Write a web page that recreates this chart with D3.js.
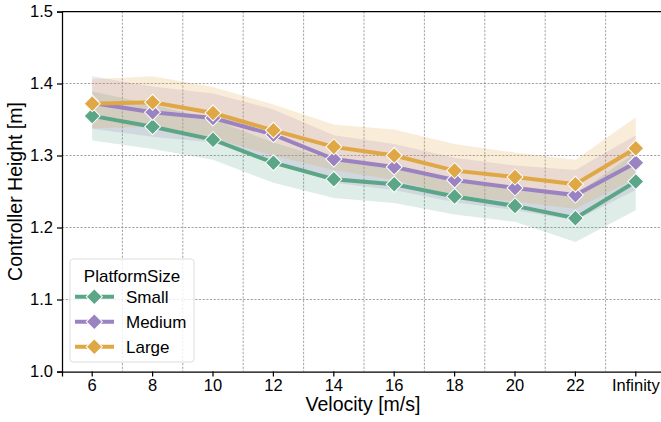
<!DOCTYPE html>
<html>
<head>
<meta charset="utf-8">
<script src="https://cdn.jsdelivr.net/npm/d3@7"></script>
<style>
  body { margin: 0; background: #fff; }
  svg text { font-family: "Liberation Sans", Arial, sans-serif; }
</style>
</head>
<body>
<svg id="chart" width="661" height="422"></svg>
<script>
// chart data
const velocities = ["6", "8", "10", "12", "14", "16", "18", "20", "22", "Infinity"];
const seriesNames = ["Small", "Medium", "Large"];
const smallMean = [1.355, 1.340, 1.322, 1.290, 1.267, 1.260, 1.243, 1.230, 1.213, 1.264];
const smallLow = [1.321, 1.309, 1.294, 1.262, 1.241, 1.234, 1.218, 1.208, 1.180, 1.224];
const smallHigh = [1.389, 1.371, 1.350, 1.318, 1.293, 1.286, 1.268, 1.252, 1.246, 1.304];
const mediumMean = [1.373, 1.360, 1.352, 1.329, 1.295, 1.284, 1.266, 1.255, 1.245, 1.290];
const mediumLow = [1.337, 1.326, 1.318, 1.294, 1.262, 1.252, 1.235, 1.224, 1.210, 1.252];
const mediumHigh = [1.410, 1.396, 1.386, 1.364, 1.328, 1.316, 1.297, 1.286, 1.280, 1.328];
const largeMean = [1.372, 1.374, 1.359, 1.335, 1.312, 1.300, 1.279, 1.270, 1.260, 1.310];
const largeLow = [1.338, 1.340, 1.324, 1.300, 1.280, 1.266, 1.244, 1.236, 1.226, 1.268];
const largeHigh = [1.406, 1.410, 1.395, 1.371, 1.343, 1.336, 1.316, 1.304, 1.294, 1.353];
const yTicks = [1.0, 1.1, 1.2, 1.3, 1.4, 1.5];

const colors = { Small: "#5ba686", Medium: "#9b83c1", Large: "#e0a745" };

const series = [
  { name: "Small", mean: smallMean, low: smallLow, high: smallHigh },
  { name: "Medium", mean: mediumMean, low: mediumLow, high: mediumHigh },
  { name: "Large", mean: largeMean, low: largeLow, high: largeHigh },
];

const svg = d3.select("#chart");
const plotLeft = 62, plotTop = 11.5, plotW = 604, plotBottom = 371.5;

const x = d3.scaleBand().domain(velocities).range([plotLeft, plotLeft + plotW]);
const y = d3.scaleLinear().domain([1.0, 1.5]).range([plotBottom, plotTop]);
const cx = (d) => x(d) + x.bandwidth() / 2;

// grid: horizontal at major y ticks, vertical between categories
const grid = svg.append("g");
grid.selectAll(".hgrid")
  .data(yTicks.slice(1, -1))
  .enter()
  .append("line")
  .attr("x1", plotLeft).attr("x2", plotLeft + plotW)
  .attr("y1", (d) => y(d)).attr("y2", (d) => y(d))
  .attr("stroke", "#8a8a8a").attr("stroke-width", 0.8)
  .attr("stroke-dasharray", "2.2,1.5");
grid.selectAll(".vgrid")
  .data(velocities.slice(1))
  .enter()
  .append("line")
  .attr("x1", (d) => x(d)).attr("x2", (d) => x(d))
  .attr("y1", plotTop).attr("y2", plotBottom)
  .attr("stroke", "#8a8a8a").attr("stroke-width", 0.8)
  .attr("stroke-dasharray", "2.2,1.5");

// confidence bands
const area = d3.area()
  .x((d, i) => cx(velocities[i]))
  .y0((d) => y(d[0]))
  .y1((d) => y(d[1]));

series.forEach((s) => {
  svg.append("path")
    .datum(s.low.map((v, i) => [v, s.high[i]]))
    .attr("d", area)
    .attr("fill", colors[s.name])
    .attr("fill-opacity", 0.2);
});

// lines + diamond markers
const line = d3.line()
  .x((d, i) => cx(velocities[i]))
  .y((d) => y(d));
const diamond = d3.symbol().type(d3.symbolSquare).size(128);

series.forEach((s) => {
  const g = svg.append("g");
  g.append("path")
    .datum(s.mean)
    .attr("d", line)
    .attr("fill", "none")
    .attr("stroke", colors[s.name])
    .attr("stroke-width", 4);
  g.selectAll(".pt")
    .data(s.mean)
    .enter()
    .append("path")
    .attr("d", diamond)
    .attr("transform", (d, i) => `translate(${cx(velocities[i])},${y(d)}) rotate(45)`)
    .attr("fill", colors[s.name])
    .attr("stroke", "#fff")
    .attr("stroke-width", 1);
});

// axes
const xAxis = svg.append("g")
  .attr("transform", `translate(0,${plotBottom})`)
  .call(d3.axisBottom(x).tickSizeOuter(0).tickSize(5).tickPadding(3));
const yAxis = svg.append("g")
  .attr("transform", `translate(${plotLeft},0)`)
  .call(d3.axisLeft(y).tickValues(yTicks).tickFormat(d3.format(".1f")).tickSizeOuter(0).tickSize(5).tickPadding(4));

[xAxis, yAxis].forEach((a) => {
  a.select(".domain").attr("stroke", "#000").attr("stroke-width", 1.25);
  a.selectAll(".tick line").attr("stroke", "#000").attr("stroke-width", 1.25);
  a.selectAll(".tick text").attr("fill", "#000").style("font-size", "16.5px");
});

// top spine
svg.append("line")
  .attr("x1", plotLeft).attr("x2", plotLeft + plotW)
  .attr("y1", plotTop).attr("y2", plotTop)
  .attr("stroke", "#000").attr("stroke-width", 1.25);

// axis titles
svg.append("text")
  .attr("x", 363).attr("y", 411)
  .attr("text-anchor", "middle")
  .style("font-size", "19.5px")
  .text("Velocity [m/s]");
svg.append("text")
  .attr("transform", `translate(22,${(plotTop + plotBottom) / 2}) rotate(-90)`)
  .attr("text-anchor", "middle")
  .style("font-size", "19.5px")
  .text("Controller Height [m]");

// legend
const legend = svg.append("g").attr("transform", "translate(70,259)");
legend.append("rect")
  .attr("width", 124).attr("height", 103).attr("rx", 3)
  .attr("fill", "#fff").attr("fill-opacity", 0.8)
  .attr("stroke", "#ddd").attr("stroke-width", 1);
legend.append("text")
  .attr("x", 62).attr("y", 22.5)
  .attr("text-anchor", "middle")
  .style("font-size", "17px")
  .text("PlatformSize");
seriesNames.forEach((name, i) => {
  const ly = 37.7 + i * 25;
  legend.append("line")
    .attr("x1", 5).attr("x2", 44)
    .attr("y1", ly).attr("y2", ly)
    .attr("stroke", colors[name]).attr("stroke-width", 4);
  legend.append("path")
    .attr("d", diamond)
    .attr("transform", `translate(24.3,${ly}) rotate(45)`)
    .attr("fill", colors[name])
    .attr("stroke", "#fff").attr("stroke-width", 1);
  legend.append("text")
    .attr("x", 56).attr("y", ly + 6.3)
    .style("font-size", "17px")
    .text(name);
});
</script>
</body>
</html>
